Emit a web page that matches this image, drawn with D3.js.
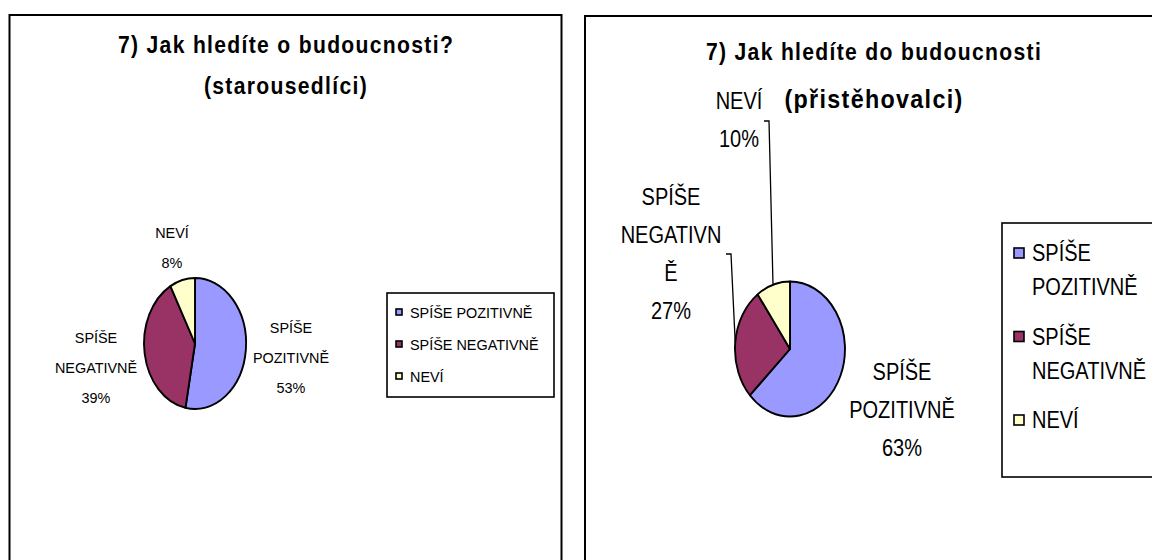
<!DOCTYPE html>
<html>
<head>
<meta charset="utf-8">
<script src="https://cdn.jsdelivr.net/npm/d3@7"></script>
<style>
  html, body { margin: 0; padding: 0; background: #fff; }
  svg { display: block; font-family: "Liberation Sans", Arial, sans-serif; }
</style>
</head>
<body>
<svg id="chart" width="1152" height="560"></svg>
<script>
// data
var categories = ["SPÍŠE POZITIVNĚ", "SPÍŠE NEGATIVNĚ", "NEVÍ"];
var starousedliciValues = [53, 39, 8];
var pristehovalciValues = [63, 27, 10];
var sliceColors = ["#9999FF", "#993366", "#FFFFCC"];

var leftTitle = ["7) Jak hledíte o budoucnosti?", "(starousedlíci)"];
var rightTitle = ["7) Jak hledíte do budoucnosti", "(přistěhovalci)"];

// label lines as Excel wrapped them
var leftLabels = [["SPÍŠE", "POZITIVNĚ"], ["SPÍŠE", "NEGATIVNĚ"], ["NEVÍ"]];
var rightLabels = [["SPÍŠE", "POZITIVNĚ"], ["SPÍŠE", "NEGATIVN", "Ě"], ["NEVÍ"]];
var rightLegendLabels = [["SPÍŠE", "POZITIVNĚ"], ["SPÍŠE", "NEGATIVNĚ"], ["NEVÍ"]];

var svg = d3.select("#chart");

// the source uses a narrow, tall face - squeeze the text horizontally
function addText(x, y, str, size, squeeze, anchor, extra) {
    var g = svg.append("g").attr("transform", "translate(" + x + "," + y + ") scale(" + squeeze + ",1)");
    var t = g.append("text")
        .attr("x", 0).attr("y", 0)
        .attr("text-anchor", anchor || "start")
        .attr("font-size", size)
        .text(str);
    if (extra) extra(t);
    return t;
}

// chart frames (both run off the bottom, the right one off the right edge too)
svg.append("rect").attr("x", 9.5).attr("y", 15).attr("width", 552).attr("height", 600)
    .attr("fill", "none").attr("stroke", "#000").attr("stroke-width", 2);
svg.append("rect").attr("x", 585).attr("y", 16).attr("width", 600).attr("height", 600)
    .attr("fill", "none").attr("stroke", "#000").attr("stroke-width", 2);

var pie = d3.pie().sort(null).value(function (d) { return d; });
var unitArc = d3.arc().innerRadius(0).outerRadius(1);

function drawPie(cfg) {
    var arcs = pie(cfg.values);
    var total = d3.sum(cfg.values);

    // title
    cfg.title.forEach(function (line, i) {
        addText(cfg.titleX, cfg.titleY[i], line, cfg.titleSize[i], 0.88, "middle", function (t) {
            t.attr("font-weight", "bold").attr("letter-spacing", 1.5);
        });
    });

    // slices: unit circle stretched into the ellipse Excel drew
    var g = svg.append("g")
        .attr("transform", "translate(" + cfg.cx + "," + cfg.cy + ") scale(" + cfg.rx + "," + cfg.ry + ")");
    g.selectAll("path").data(arcs).enter().append("path")
        .attr("d", unitArc)
        .attr("fill", function (d, i) { return sliceColors[i]; })
        .attr("stroke", "#000")
        .attr("stroke-width", 1.9)
        .attr("stroke-linejoin", "round")
        .attr("vector-effect", "non-scaling-stroke");

    // data labels
    arcs.forEach(function (a, i) {
        var lines = cfg.labels[i].concat([Math.round(a.value / total * 100) + "%"]);
        var off = cfg.labelOffsets[i];
        lines.forEach(function (s, j) {
            addText(cfg.cx + off[0], cfg.cy + off[1] + j * cfg.lineGap, s, cfg.labelSize, cfg.squeeze, "middle");
        });

        // leader lines
        if (cfg.leaders && cfg.leaders[i]) {
            var mid = (a.startAngle + a.endAngle) / 2;
            var ex = cfg.cx + Math.sin(mid) * cfg.rx;
            var ey = cfg.cy - Math.cos(mid) * cfg.ry;
            var l = cfg.leaders[i];
            svg.append("path")
                .attr("d", "M" + (cfg.cx + l[0]) + "," + (cfg.cy + l[1]) +
                    "H" + (cfg.cx + l[0] + 5) + "L" + ex + "," + ey)
                .attr("fill", "none").attr("stroke", "#000").attr("stroke-width", 1.3);
        }
    });

    // legend
    var lg = cfg.legend;
    svg.append("rect").attr("x", lg.x).attr("y", lg.y).attr("width", lg.w).attr("height", lg.h)
        .attr("fill", "#fff").attr("stroke", "#000").attr("stroke-width", 1.6);
    cfg.legendLabels.forEach(function (lines, i) {
        var yc = lg.y + lg.firstY + i * lg.step;
        svg.append("rect")
            .attr("x", lg.x + lg.sqX).attr("y", yc - lg.sq / 2)
            .attr("width", lg.sq).attr("height", lg.sq)
            .attr("fill", sliceColors[i]).attr("stroke", "#000").attr("stroke-width", 1.6);
        lines.forEach(function (s, j) {
            addText(lg.x + lg.textX, yc + j * lg.lineGap, s, cfg.labelSize, cfg.squeeze, "start",
                function (t) { t.attr("dy", "0.36em"); });
        });
    });
}

drawPie({
    values: starousedliciValues,
    title: leftTitle, titleX: 286, titleY: [53, 94], titleSize: [24, 24],
    cx: 195, cy: 343.5, rx: 51, ry: 65.5,
    labels: leftLabels, labelSize: 15.5, squeeze: 0.93, lineGap: 30,
    labelOffsets: [[96, -11], [-99, -1], [-23, -106]],
    legend: { x: 387, y: 293, w: 167, h: 104, firstY: 19, step: 32, sq: 6, sqX: 9, textX: 23, lineGap: 0 },
    legendLabels: categories.map(function (c) { return [c]; })
});

drawPie({
    values: pristehovalciValues,
    title: rightTitle, titleX: 874, titleY: [60, 108], titleSize: [24, 26.5],
    cx: 790, cy: 349, rx: 55, ry: 67.5,
    labels: rightLabels, labelSize: 23, squeeze: 0.87, lineGap: 38,
    labelOffsets: [[112, 31], [-119, -144], [-51, -240]],
    leaders: [null, [-64, -95], [-26, -228]],
    legend: { x: 1002, y: 223, w: 200, h: 254, firstY: 30, step: 83.5, sq: 10, sqX: 12, textX: 30, lineGap: 34 },
    legendLabels: rightLegendLabels
});
</script>
</body>
</html>
